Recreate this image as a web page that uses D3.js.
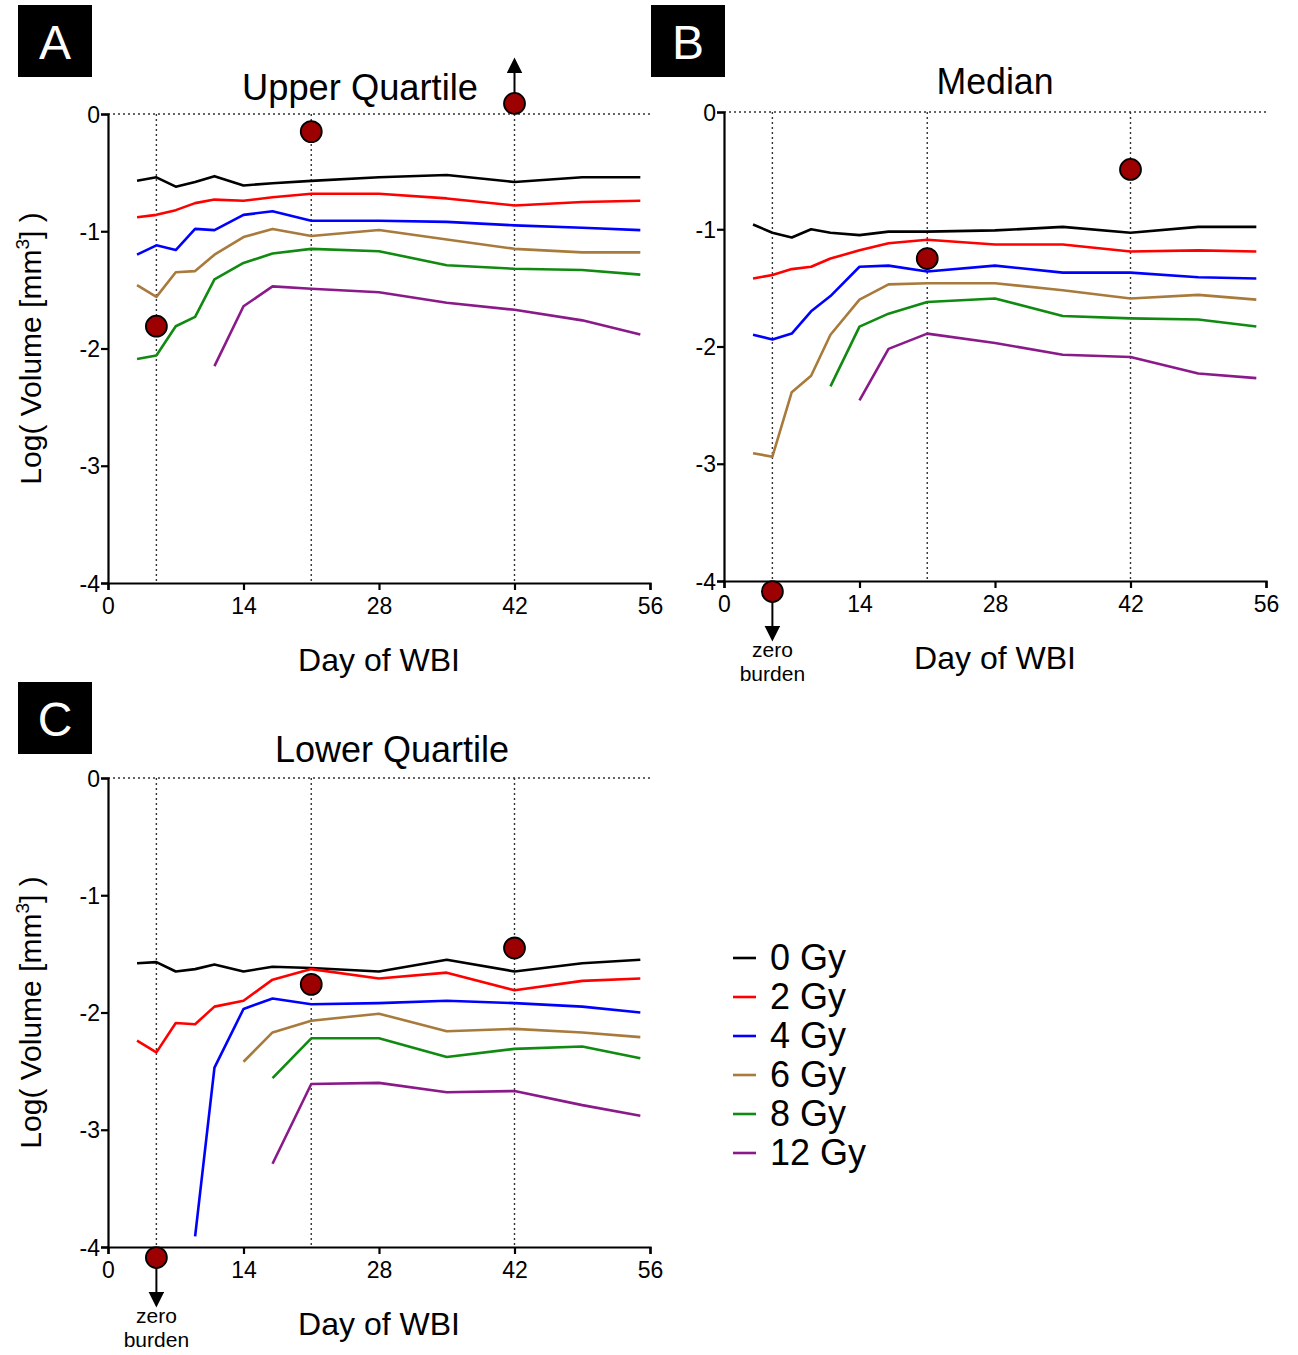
<!DOCTYPE html>
<html><head><meta charset="utf-8">
<script src="https://cdn.jsdelivr.net/npm/d3@7"></script>
<style>
body{margin:0;background:#fff;}
text{font-family:"Liberation Sans",Arial,sans-serif;}
</style></head>
<body>
<svg id="chart" width="1298" height="1355"></svg>
<script>
const days = [3,5,7,9,11,14,17,21,28,35,42,49,55];
const doseLabels = ["0 Gy","2 Gy","4 Gy","6 Gy","8 Gy","12 Gy"];
const doseColors = ["#000000","#ff0000","#0000ff","#a87a3c","#108a10","#8a1a8a"];
const xTicks = [0,14,28,42,56];
const yTicks = [0,-1,-2,-3,-4];
const markerDays = [5,21,42];

// Upper quartile (A)
const upper0  = [-0.57,-0.54,-0.62,-0.58,-0.53,-0.61,-0.59,-0.57,-0.54,-0.52,-0.58,-0.54,-0.54];
const upper2  = [-0.88,-0.86,-0.82,-0.76,-0.73,-0.74,-0.71,-0.68,-0.68,-0.72,-0.78,-0.75,-0.74];
const upper4  = [-1.20,-1.12,-1.16,-0.98,-0.99,-0.86,-0.83,-0.91,-0.91,-0.92,-0.95,-0.97,-0.99];
const upper6  = [-1.46,-1.56,-1.35,-1.34,-1.20,-1.05,-0.98,-1.04,-0.99,-1.07,-1.15,-1.18,-1.18];
const upper8  = [-2.09,-2.06,-1.81,-1.73,-1.41,-1.27,-1.19,-1.15,-1.17,-1.29,-1.32,-1.33,-1.37];
const upper12 = [null,null,null,null,-2.15,-1.64,-1.47,-1.49,-1.52,-1.61,-1.67,-1.76,-1.88];
const upperDots = [-1.81,-0.15,0.09];

// Median (B)
const median0  = [-0.96,-1.03,-1.07,-1.00,-1.03,-1.05,-1.02,-1.02,-1.01,-0.98,-1.03,-0.98,-0.98];
const median2  = [-1.42,-1.39,-1.34,-1.32,-1.25,-1.18,-1.12,-1.09,-1.13,-1.13,-1.19,-1.18,-1.19];
const median4  = [-1.90,-1.94,-1.89,-1.70,-1.57,-1.32,-1.31,-1.36,-1.31,-1.37,-1.37,-1.41,-1.42];
const median6  = [-2.91,-2.94,-2.39,-2.25,-1.90,-1.60,-1.47,-1.46,-1.46,-1.52,-1.59,-1.56,-1.60];
const median8  = [null,null,null,null,-2.34,-1.83,-1.72,-1.62,-1.59,-1.74,-1.76,-1.77,-1.83];
const median12 = [null,null,null,null,null,-2.46,-2.02,-1.89,-1.97,-2.07,-2.09,-2.23,-2.27];
const medianDots = [-4.09,-1.25,-0.49];

// Lower quartile (C)
const lower0  = [-1.58,-1.57,-1.65,-1.63,-1.59,-1.65,-1.61,-1.62,-1.65,-1.55,-1.65,-1.58,-1.55];
const lower2  = [-2.24,-2.34,-2.09,-2.10,-1.95,-1.90,-1.72,-1.63,-1.71,-1.66,-1.81,-1.73,-1.71];
const lower4  = [null,null,null,-3.91,-2.47,-1.97,-1.88,-1.93,-1.92,-1.90,-1.92,-1.95,-2.00];
const lower6  = [null,null,null,null,null,-2.42,-2.17,-2.07,-2.01,-2.16,-2.14,-2.17,-2.21];
const lower8  = [null,null,null,null,null,null,-2.56,-2.22,-2.22,-2.38,-2.31,-2.29,-2.39];
const lower12 = [null,null,null,null,null,null,-3.29,-2.61,-2.60,-2.68,-2.67,-2.79,-2.88];
const lowerDots = [-4.09,-1.76,-1.45];

const svg = d3.select("#chart");
const defs = svg.append("defs");
defs.append("marker").attr("id","arrowhead").attr("viewBox","0 0 10 10")
  .attr("refX",5).attr("refY",5).attr("markerWidth",8).attr("markerHeight",8)
  .attr("orient","auto-start-reverse")
  .append("path").attr("d","M0,0 L10,5 L0,10 z").attr("fill","#000");

function panel(cfg){
  const x = d3.scaleLinear().domain([0,56]).range([cfg.left, cfg.left+542]);
  const y = d3.scaleLinear().domain([0,-4]).range([cfg.top, cfg.top+469]);
  const g = svg.append("g");

  // letter box
  g.append("rect").attr("x",cfg.boxX).attr("y",cfg.boxY).attr("width",74).attr("height",72).attr("fill","#000");
  g.append("text").attr("x",cfg.boxX+37).attr("y",cfg.boxY+54).attr("text-anchor","middle")
    .attr("fill","#fff").attr("font-size",48).text(cfg.letter);

  // title
  g.append("text").attr("x",cfg.titleX).attr("y",cfg.titleY).attr("text-anchor","middle")
    .attr("font-size",36).attr("textLength",cfg.titleLen).attr("lengthAdjust","spacingAndGlyphs").text(cfg.title);

  // reference dotted lines
  g.append("line").attr("x1",x(0)).attr("x2",x(56)).attr("y1",y(0)).attr("y2",y(0))
    .attr("stroke","#333").attr("stroke-width",1.6).attr("stroke-dasharray","2,3");
  markerDays.forEach(d=>{
    g.append("line").attr("x1",x(d)).attr("x2",x(d)).attr("y1",y(0)).attr("y2",y(-4))
      .attr("stroke","#333").attr("stroke-width",1.4).attr("stroke-dasharray","2,3");
  });

  // axes
  const fmt = d => String(d);
  const ax = g.append("g").attr("transform",`translate(0,${y(-4)})`)
    .call(d3.axisBottom(x).tickValues(xTicks).tickSize(7).tickPadding(4).tickFormat(fmt));
  const ay = g.append("g").attr("transform",`translate(${x(0)},0)`)
    .call(d3.axisLeft(y).tickValues(yTicks).tickSize(7).tickPadding(1).tickFormat(fmt));
  [ax,ay].forEach(a=>{
    a.select(".domain").attr("stroke","#000").attr("stroke-width",2.2);
    a.selectAll(".tick line").attr("stroke","#000").attr("stroke-width",2.2);
    a.selectAll(".tick text").attr("font-size",23).attr("fill","#000")
      .attr("font-family","Liberation Sans, Arial, sans-serif");
  });
  ax.selectAll(".tick text").attr("dy","0.85em");
  ay.selectAll(".tick text").attr("dy","0.35em");

  // x label
  g.append("text").attr("x",x(28)).attr("y",y(-4)+88).attr("text-anchor","middle")
    .attr("font-size",32).text("Day of WBI");

  // y label
  if(cfg.ylabel){
    const t = g.append("text").attr("transform",`translate(${cfg.left-67},${y(-2)}) rotate(-90)`)
      .attr("text-anchor","middle").attr("font-size",30);
    t.append("tspan").text("Log( Volume [mm");
    t.append("tspan").attr("font-size",19).attr("dy",-12).text("3");
    t.append("tspan").attr("dy",12).text("] )");
  }

  // lines
  const line = d3.line().defined(v=>v[1]!==null).x(v=>x(v[0])).y(v=>y(v[1]));
  cfg.series.forEach((s,i)=>{
    g.append("path").datum(days.map((d,j)=>[d,s[j]]))
      .attr("d",line).attr("fill","none").attr("stroke",doseColors[i])
      .attr("stroke-width",2.6).attr("stroke-linejoin","round");
  });

  // arrows
  cfg.dots.forEach((v,i)=>{
    const cx = x(markerDays[i]), cy = y(v);
    if(v>0){
      g.append("line").attr("x1",cx).attr("x2",cx).attr("y1",cy-10).attr("y2",cy-38)
        .attr("stroke","#000").attr("stroke-width",2).attr("marker-end","url(#arrowhead)");
    }
    if(v<-4){
      g.append("line").attr("x1",cx).attr("x2",cx).attr("y1",cy+10).attr("y2",cy+42)
        .attr("stroke","#000").attr("stroke-width",2).attr("marker-end","url(#arrowhead)");
      g.append("text").attr("x",cx).attr("y",cy+65).attr("text-anchor","middle").attr("font-size",21).text("zero");
      g.append("text").attr("x",cx).attr("y",cy+89).attr("text-anchor","middle").attr("font-size",21).text("burden");
    }
  });
  // dots
  cfg.dots.forEach((v,i)=>{
    g.append("circle").attr("cx",x(markerDays[i])).attr("cy",y(v)).attr("r",10.5)
      .attr("fill","#9c0000").attr("stroke","#000").attr("stroke-width",1.8);
  });
}

panel({left:108,top:114,boxX:18,boxY:5,letter:"A",title:"Upper Quartile",titleLen:236,titleX:360,titleY:100,ylabel:true,
  series:[upper0,upper2,upper4,upper6,upper8,upper12],dots:upperDots});
panel({left:724,top:112,boxX:651,boxY:5,letter:"B",title:"Median",titleLen:117,titleX:995,titleY:94,ylabel:false,
  series:[median0,median2,median4,median6,median8,median12],dots:medianDots});
panel({left:108,top:778,boxX:18,boxY:682,letter:"C",title:"Lower Quartile",titleLen:234,titleX:392,titleY:762,ylabel:true,
  series:[lower0,lower2,lower4,lower6,lower8,lower12],dots:lowerDots});

// legend
const lg = svg.append("g");
doseLabels.forEach((lab,i)=>{
  const yy = 958 + i*39;
  lg.append("line").attr("x1",733).attr("x2",756).attr("y1",yy).attr("y2",yy)
    .attr("stroke",doseColors[i]).attr("stroke-width",2.6);
  lg.append("text").attr("x",770).attr("y",yy+12).attr("font-size",36).text(lab);
});
</script>
</body></html>
